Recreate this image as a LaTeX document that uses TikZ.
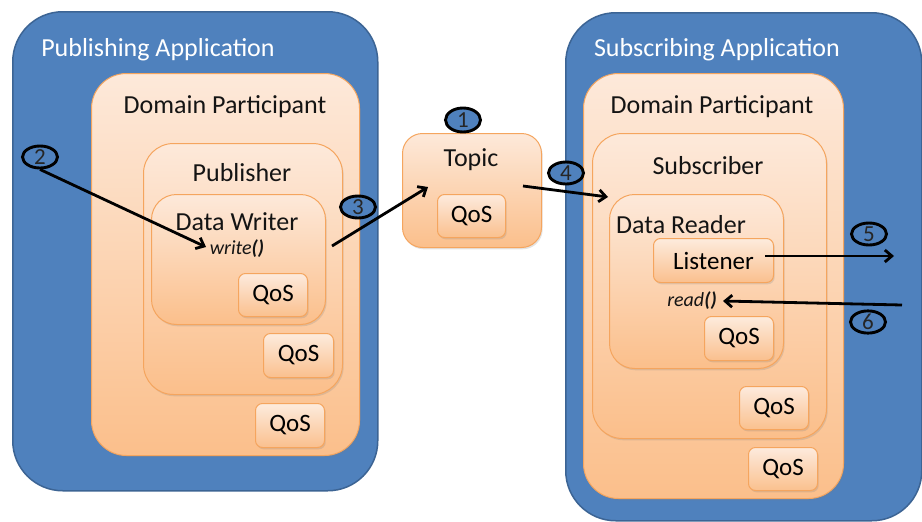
\documentclass[tikz,border=0pt]{standalone}
\usepackage{fontspec}
\setmainfont{Carlito}
\usetikzlibrary{arrows.meta,shadows,shapes.geometric}
\definecolor{appblue}{HTML}{4F81BD}
\definecolor{appedge}{HTML}{3C6494}
\definecolor{orgedge}{HTML}{F5A55E}
\definecolor{peachtop}{HTML}{FDE9DA}
\definecolor{peachbot}{HTML}{FBBF8B}
\definecolor{qostop}{HTML}{FDEBDD}
\definecolor{qosbot}{HTML}{FAC08E}
\tikzset{
  app/.style={draw=appedge, line width=1.5pt, fill=appblue, rounded corners=50pt, anchor=north west, inner sep=0pt},
  layer/.style={draw=orgedge, line width=1pt, top color=peachtop, bottom color=peachbot, anchor=north west, inner sep=0pt,
     drop shadow={opacity=0.22, shadow xshift=1.2pt, shadow yshift=-1.8pt}},
  qos/.style={layer, top color=qostop, bottom color=qosbot, rounded corners=7pt, font=\fontsize{25}{27}\selectfont},
  lbl/.style={font=\fontsize{26}{28}\selectfont, text=black!92, inner sep=0pt},
  ttl/.style={font=\fontsize{26}{28}\selectfont, text=white, inner sep=0pt},
  fn/.style={font=\fontsize{20}{22}\selectfont\itshape, text=black!92, inner sep=0pt},
  num/.style={ellipse, draw=black, line width=2.9pt, fill=appblue, minimum width=35pt, minimum height=22pt, inner sep=0pt,
     font=\fontsize{23}{24}\selectfont, text=black!85},
  arr/.style={draw=black, line width=2.8pt, -{Straight Barb[length=7pt,width=12pt,line width=2.8pt]}}
}
\begin{document}
\begin{tikzpicture}[x=1pt,y=-1pt]
\clip (0,0) rectangle (922,522);
\useasboundingbox (0,0) rectangle (922,522);
\fill[white] (0,0) rectangle (922,522);

% ---------- Publishing application ----------
\node[app, minimum width=365pt, minimum height=479pt] (pubapp) at (12,11) {};
\node[ttl] (tpub) at (158,50) {Publishing Application};
\node[layer, rounded corners=35pt, minimum width=268pt, minimum height=382pt] (ldp) at (91,73) {};
\node[lbl] (tldp) at (225,107) {Domain Participant};
\node[layer, rounded corners=30pt, minimum width=199pt, minimum height=251pt] (pub) at (143,143) {};
\node[lbl] (tpubr) at (242,173) {Publisher};
\node[layer, rounded corners=25pt, minimum width=174pt, minimum height=130pt] (dw) at (151,194) {};
\node[lbl] (tdw) at (237,222) {Data Writer};
\node[fn] (write) at (237,249) {write\textbf{()}};
\node[qos, minimum width=69pt, minimum height=43pt] (qdw) at (238,273) {QoS};
\node[qos, minimum width=70pt, minimum height=44pt] (qpub) at (263,333) {QoS};
\node[qos, minimum width=69pt, minimum height=44pt] (qldp) at (255,403) {QoS};

% ---------- Topic ----------
\node[layer, rounded corners=20pt, minimum width=139pt, minimum height=114pt] (topic) at (402,133) {};
\node[lbl] (ttopic) at (471,160) {Topic};
\node[qos, minimum width=68pt, minimum height=43pt] (qtopic) at (437,194) {QoS};

% ---------- Subscribing application ----------
\node[app, minimum width=356pt, minimum height=508pt] (subapp) at (565,12) {};
\node[ttl] (tsub) at (717,50) {Subscribing Application};
\node[layer, rounded corners=35pt, minimum width=260pt, minimum height=425pt] (rdp) at (583,73) {};
\node[lbl] (trdp) at (712,107) {Domain Participant};
\node[layer, rounded corners=30pt, minimum width=234pt, minimum height=305pt] (subr) at (592,133) {};
\node[lbl] (tsubr) at (708,166) {Subscriber};
\node[layer, rounded corners=25pt, minimum width=174pt, minimum height=174pt] (dr) at (609,194) {};
\node[lbl] (tdr) at (681,225) {Data Reader};
\node[qos, minimum width=120pt, minimum height=44pt] (lis) at (653,238) {Listener};
\node[fn] (read) at (692,301) {read\textbf{()}};
\node[qos, minimum width=69pt, minimum height=44pt] (qdr) at (704,316) {QoS};
\node[qos, minimum width=69pt, minimum height=43pt] (qsubr) at (739,386) {QoS};
\node[qos, minimum width=69pt, minimum height=43pt] (qrdp) at (748,447) {QoS};

% ---------- numbered markers ----------
\node[num, minimum width=35pt, minimum height=24pt] (c1) at (463,120) {1};
\node[num] (c2) at (40,157) {2};
\node[num] (c3) at (358,207) {3};
\node[num] (c4) at (566,173) {4};
\node[num] (c5) at (869,234) {5};
\node[num] (c6) at (868,322) {6};

% ---------- connectors ----------
\coordinate (w2) at (206,247);
\coordinate (s3) at (332,246);
\coordinate (e3) at (428,187);
\coordinate (s4) at (523,186);
\coordinate (e4) at (608,197);
\coordinate (s5) at (765,256);
\coordinate (e5) at (894,256);
\coordinate (s6) at (902,305);
\coordinate (e6) at (723,301);

\draw[arr] (c2.south) -- (w2);
\draw[arr] (s3) -- (e3);
\draw[arr] (s4) -- (e4);
\draw[arr] (s5) -- (e5);
\draw[arr] (s6) -- (e6);
\end{tikzpicture}
\end{document}
